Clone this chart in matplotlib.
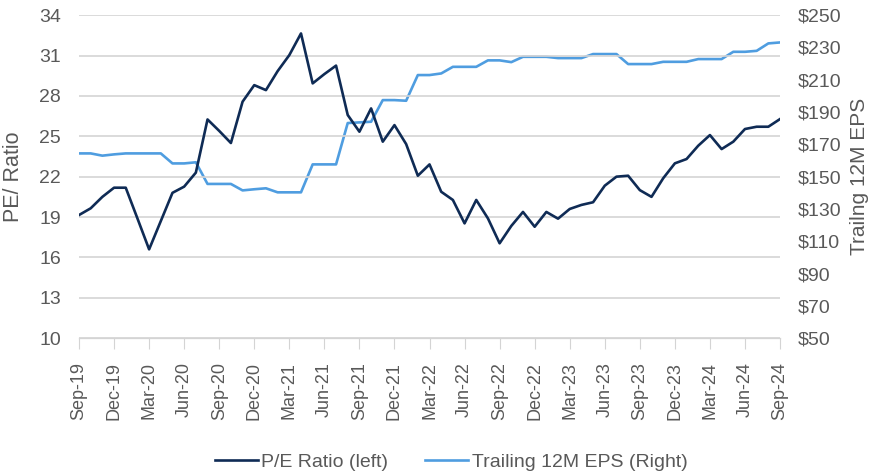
import numpy as np
import pandas as pd
import matplotlib
matplotlib.use('Agg')
import matplotlib.pyplot as plt

DARK, LIGHT, GRID, TXT = '#0f2b55', '#4f9de0', '#d4d4d4', '#595959'
plt.rcParams.update({'font.family': ['Liberation Sans', 'DejaVu Sans']})

months = pd.date_range('2019-09-01', '2024-09-01', freq='MS')
month_labels = [d.strftime('%b-%y') for d in months]

pe_ratio = [19.15, 19.65, 20.5, 21.18, 21.18, 18.9, 16.6, 18.7, 20.8, 21.26,
            22.3, 26.25, 25.4, 24.5, 27.57, 28.8, 28.43, 29.84, 31.03, 32.64,
            28.93, 29.62, 30.25, 26.58, 25.34, 27.07, 24.6, 25.83, 24.42, 22.07,
            22.91, 20.88, 20.27, 18.53, 20.27, 18.9, 17.05, 18.34, 19.38, 18.28,
            19.38, 18.88, 19.6, 19.9, 20.1, 21.33, 22.0, 22.07, 21.0, 20.5,
            21.88, 22.99, 23.31, 24.3, 25.09, 24.05, 24.6, 25.54, 25.71, 25.71,
            26.28]
eps_12m = [164.4, 164.4, 163.0, 163.8, 164.4, 164.4, 164.4, 164.4, 158.2, 158.2,
           158.9, 145.5, 145.5, 145.5, 141.5, 142.2, 142.8, 140.3, 140.3, 140.3,
           157.6, 157.6, 157.6, 183.2, 183.6, 184.0, 197.4, 197.4, 197.0, 212.9,
           212.9, 213.9, 218.0, 218.0, 218.0, 222.0, 222.0, 220.9, 224.2, 224.2,
           224.2, 223.4, 223.4, 223.4, 225.9, 225.9, 225.9, 219.7, 219.7, 219.7,
           221.1, 221.1, 221.1, 222.8, 222.8, 222.8, 227.3, 227.3, 227.9, 232.5,
           233.1]
pe_ticks = np.arange(10, 35, 3)
eps_ticks = np.arange(50, 251, 20)

x = np.arange(len(months))
fig = plt.figure(figsize=(8.73, 4.73), dpi=100)
ax = fig.add_axes([0.0905, 0.285, 0.803, 0.683])
ax2 = ax.twinx()

l1, = ax.plot(x, pe_ratio, color=DARK, lw=1.9, label='P/E Ratio (left)', zorder=3)
l2, = ax2.plot(x, eps_12m, color=LIGHT, lw=1.9, label='Trailing 12M EPS (Right)', zorder=2)

ax.set_xlim(0, len(x) - 1)
ax.set_ylim(10, 34)
ax.set_yticks(pe_ticks)
ax2.set_ylim(50, 250)
ax2.set_yticks(eps_ticks)
ax2.set_yticklabels([f'${v}' for v in eps_ticks])

ax.set_xticks(x[::3])
ax.set_xticklabels(month_labels[::3], rotation=90, fontsize=13, color=TXT)
ax.tick_params(axis='x', length=8, color=GRID, pad=9)
ax.tick_params(axis='y', length=0, labelsize=14, colors=TXT, pad=13)
ax2.tick_params(axis='y', length=0, labelsize=14, colors=TXT, pad=13)

ax.grid(axis='y', color=GRID, lw=1.2)
ax.set_axisbelow(True)
for a in (ax, ax2):
    for s in ('top', 'left', 'right'):
        a.spines[s].set_visible(False)
    a.spines['bottom'].set_color(GRID)
ax.set_zorder(ax2.get_zorder() + 1)
ax.patch.set_visible(False)

ax.set_ylabel('PE/ Ratio', fontsize=15.5, color=TXT)
ax.yaxis.set_label_coords(-0.079, 0.5)
ax2.set_ylabel('Trailng 12M EPS', fontsize=15, color=TXT, rotation=90)
ax2.yaxis.set_label_coords(1.100, 0.5)

fig.legend(handles=[l1, l2], loc='lower center', bbox_to_anchor=(0.517, -0.032), ncol=2,
           frameon=False, fontsize=14, labelcolor=TXT, handlelength=2.2, columnspacing=1.9,
           handletextpad=0.2)

fig.savefig('out.png', dpi=100)
